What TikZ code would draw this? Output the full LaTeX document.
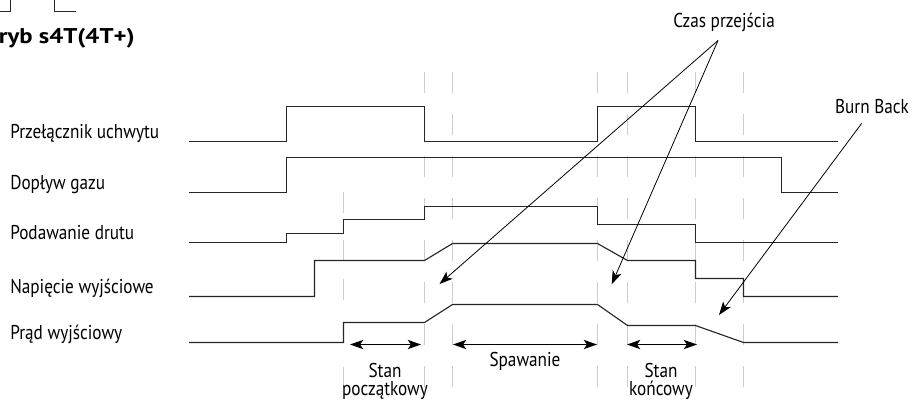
\documentclass[tikz,border=0pt]{standalone}
\usepackage{fontspec}
\setmainfont[FakeStretch=0.86]{PT Sans}
\newfontfamily\titlefont[FakeStretch=1.16]{PT Sans}
\usetikzlibrary{arrows.meta}
\begin{document}
\begin{tikzpicture}[x=0.75pt,y=-0.75pt,
  sig/.style={line width=0.85pt, black!85, line join=miter},
  gridline/.style={line width=1pt, black!20, dash pattern=on 15.75pt off 15.75pt},
  gridseg/.style={line width=1pt, black!20},
  lbl/.style={font=\fontsize{15}{18}\selectfont, inner sep=0pt, anchor=base west},
  txt/.style={font=\fontsize{15}{18}\selectfont, inner sep=0pt, anchor=base},
  phase/.style={font=\fontsize{15}{14}\selectfont, inner sep=0pt, anchor=north, align=center},
  ptr/.style={line width=0.6pt, -{Stealth[length=10pt,width=7pt,inset=2.5pt]}},
  dbl/.style={line width=0.9pt, {Stealth[length=10pt,width=7pt,inset=2.5pt]}-{Stealth[length=10pt,width=7pt,inset=2.5pt]}}]
\useasboundingbox (0,0) rectangle (912,401);
\clip (0,0) rectangle (912,401);

% fragments of the figure above
\draw[sig] (0,11.5) -- (10.5,11.5) -- (10.5,0);
\draw[sig] (54.5,0) -- (54.5,11.5) -- (76,11.5);

% title (cut at left edge)
\node[font=\titlefont\bfseries\fontsize{16}{19}\selectfont, inner sep=0pt, anchor=base east] (title) at (135,43) {tryb s4T(4T+)};

% grey dashed time markers
\foreach \x in {424.5,452.5,597.5,627.5,695.5,743.5}
  \draw[gridline] (\x,72) -- (\x,388);
\foreach \a/\b in {192/213,240/261,279/300,367/388}
  \draw[gridseg] (343.5,\a) -- (343.5,\b);

% signal labels
\node[lbl] (l1) at (10,138.5) {Przełącznik uchwytu};
\node[lbl] (l2) at (10,189) {Dopływ gazu};
\node[lbl] (l3) at (10,239.5) {Podawanie drutu};
\node[lbl] (l4) at (10,293) {Napięcie wyjściowe};
\node[lbl] (l5) at (10,339.5) {Prąd wyjściowy};

% waveforms
\draw[sig] (189,141.5) -- (286.5,141.5) -- (286.5,106.5) -- (424.5,106.5) -- (424.5,141.5)
  -- (597.5,141.5) -- (597.5,106.5) -- (695.5,106.5) -- (695.5,141.5) -- (838,141.5);
\draw[sig] (189,192.5) -- (286.5,192.5) -- (286.5,157.5) -- (781.5,157.5) -- (781.5,192.5) -- (838,192.5);
\draw[sig] (189,242.5) -- (286.5,242.5) -- (286.5,233.5) -- (343.5,233.5) -- (343.5,219.5)
  -- (424.5,219.5) -- (424.5,206.5) -- (597.5,206.5) -- (597.5,224.5) -- (695.5,224.5) -- (695.5,242.5) -- (838,242.5);
\draw[sig] (189,296.5) -- (314.5,296.5) -- (314.5,260.5) -- (424.5,260.5) -- (452.5,243.5) -- (597.5,243.5)
  -- (627.5,260.5) -- (695.5,260.5) -- (695.5,278.5) -- (743.5,278.5) -- (743.5,296.5) -- (838,296.5);
\draw[sig] (189,342.5) -- (343.5,342.5) -- (343.5,322.5) -- (424.5,322.5) -- (452.5,304.5) -- (597.5,304.5)
  -- (627.5,325.5) -- (695.5,325.5) -- (743.5,342.5) -- (838,342.5);

% annotations
\node[txt] (czas) at (724,27) {Czas przejścia};
\coordinate (apex) at (718,40.5);
\coordinate (t1) at (439.5,284);
\coordinate (t2) at (611.7,284.3);
\draw[ptr] (apex) -- (t1);
\draw[ptr] (apex) -- (t2);

\node[txt] (burn) at (872,113) {Burn Back};
\coordinate (bstart) at (861.7,123.3);
\coordinate (bend) at (719,315);
\draw[ptr] (bstart) -- (bend);

% phase arrows
\coordinate (a1) at (350,344.5);
\coordinate (a2) at (421,344.5);
\coordinate (b1) at (453,344.5);
\coordinate (b2) at (597,344.5);
\coordinate (c1) at (627,344.5);
\coordinate (c2) at (697,344.5);
\draw[dbl] (a1) -- (a2);
\draw[dbl] (b1) -- (b2);
\draw[dbl] (c1) -- (c2);

\node[phase] (start) at (385,362.5) {Stan\\początkowy};
\node[txt] (sp) at (525,366.5) {Spawanie};
\node[phase] (end) at (661,362.5) {Stan\\końcowy};
\end{tikzpicture}
\end{document}
